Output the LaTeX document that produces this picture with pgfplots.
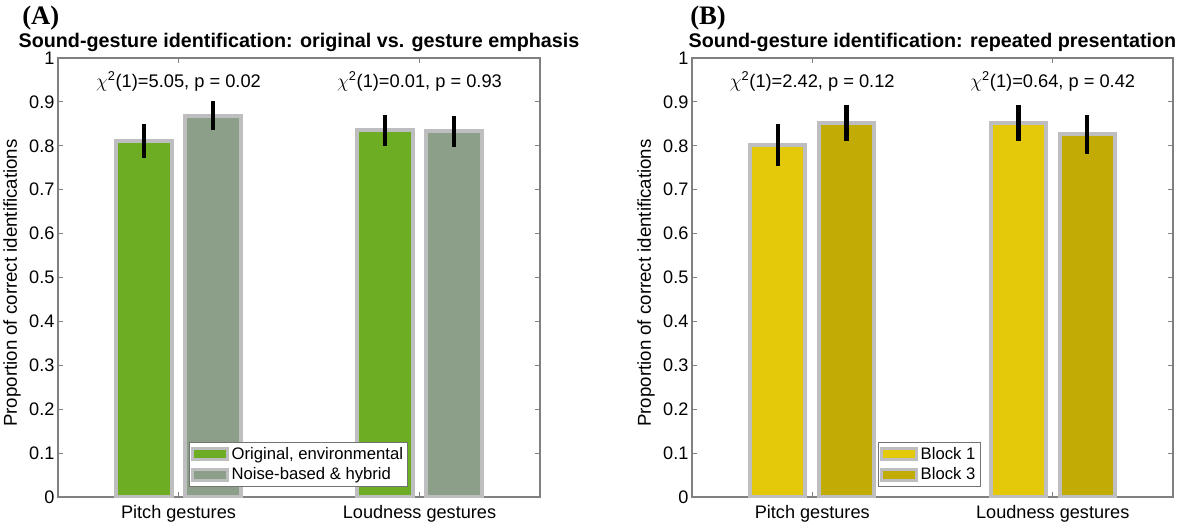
\documentclass[border=0pt]{standalone}
\usepackage{pgfplots}
\pgfplotsset{compat=1.18}
\usepackage{pgfplotstable}
\usepackage{fontspec}
\setmainfont{Liberation Sans}
\newfontfamily\panelfont{Liberation Serif}

\definecolor{cGreen}{RGB}{109,173,35}
\definecolor{cSage}{RGB}{140,159,137}
\definecolor{cYel}{RGB}{227,201,9}
\definecolor{cOlive}{RGB}{195,171,6}
\definecolor{cEdge}{RGB}{190,190,192}
\definecolor{axgray}{RGB}{128,128,128}

% panel A
\pgfplotstableread{
x y ep em
0.857 0.811 0.039 0.038
1.857 0.835 0.036 0.036
}\Aone
\pgfplotstableread{
x y ep em
1.143 0.869 0.033 0.033
2.143 0.833 0.036 0.036
}\Atwo
% panel B
\pgfplotstableread{
x y ep em
0.857 0.801 0.048 0.048
1.857 0.852 0.042 0.042
}\Bone
\pgfplotstableread{
x y ep em
1.143 0.852 0.042 0.042
2.143 0.827 0.044 0.045
}\Btwo

\pgfplotsset{
  patchleg/.style={legend image code/.code={\draw[##1] (0pt,-4pt) rectangle (26pt,4pt);}},
  mybar/.style={ybar, bar width=0.229, bar shift=0pt, draw=cEdge, line width=3pt, forget plot,
      error bars/y dir=both, error bars/y explicit, error bars/error mark=none,
      error bars/error bar style={line width=3.5pt, draw=black, line cap=butt}},
  panel/.style={
    scale only axis, height=329.25pt,
    xmin=0.5, xmax=2.5, ymin=0, ymax=1,
    xtick={1,2}, xticklabels={Pitch gestures,Loudness gestures},
    ytick={0,0.1,0.2,0.3,0.4,0.5,0.6,0.7,0.8,0.9,1},
    yticklabels={0,0.1,0.2,0.3,0.4,0.5,0.6,0.7,0.8,0.9,1},
    tick align=inside, tick pos=both, major tick length=4pt,
    axis line style={draw=axgray, line width=0.8pt},
    tick style={draw=axgray, line width=0.6pt},
    ticklabel style={font=\fontsize{13.6}{15}\selectfont},
    yticklabel style={inner sep=2.5pt},
    xticklabel style={yshift=-2.5pt},
    /pgf/number format/assume math mode=true,
    ylabel={Proportion of correct identifications},
    ylabel style={at={(axis description cs:-0.0954,0.4875)}, anchor=center, font=\fontsize{14}{16}\selectfont},
    every axis title shift=0pt,
    title style={at={(axis description cs:0.5,1.0228)}, anchor=base, font=\fontsize{14.8}{16}\selectfont\bfseries},
    legend style={draw=black!55, fill=white, font=\fontsize{12.5}{14}\selectfont,
      inner sep=1.5pt, row sep=1pt, anchor=south west},
    legend cell align=left,
  }
}

\begin{document}
\begin{tikzpicture}
\useasboundingbox (0,0) rectangle (882.75pt,396.75pt);

\node[anchor=base west, inner sep=0pt, font=\panelfont\bfseries\fontsize{20}{22}\selectfont] at (16.5pt,378pt) {(A)};
\node[anchor=base west, inner sep=0pt, font=\panelfont\bfseries\fontsize{20}{22}\selectfont] at (517.5pt,378pt) {(B)};

\begin{axis}[panel, at={(43.5pt,24pt)}, anchor=south west, width=361.5pt,
  title={Sound-gesture identification: original vs. gesture emphasis},
  legend style={at={(0.272,0.023)}}]
\addplot[mybar, fill=cGreen] table[x=x, y=y, y error plus=ep, y error minus=em] {\Aone};
\addplot[mybar, fill=cSage] table[x=x, y=y, y error plus=ep, y error minus=em] {\Atwo};
\addlegendimage{patchleg, fill=cGreen, draw=cEdge, line width=2.2pt}
\addlegendentry{Original, environmental}
\addlegendimage{patchleg, fill=cSage, draw=cEdge, line width=2.2pt}
\addlegendentry{Noise-based \& hybrid}
\node[anchor=base, font=\fontsize{13.7}{15}\selectfont] at (axis cs:1,0.932) {$\chi$\textsuperscript{2}(1)=5.05, p = 0.02};
\node[anchor=base, font=\fontsize{13.7}{15}\selectfont] at (axis cs:2,0.932) {$\chi$\textsuperscript{2}(1)=0.01, p = 0.93};
\end{axis}

\begin{axis}[panel, at={(519pt,24pt)}, anchor=south west, width=360.75pt,
  title={Sound-gesture identification: repeated presentation},
  legend style={at={(0.387,0.023)}}]
\addplot[mybar, fill=cYel] table[x=x, y=y, y error plus=ep, y error minus=em] {\Bone};
\addplot[mybar, fill=cOlive] table[x=x, y=y, y error plus=ep, y error minus=em] {\Btwo};
\addlegendimage{patchleg, fill=cYel, draw=cEdge, line width=2.2pt}
\addlegendentry{Block 1}
\addlegendimage{patchleg, fill=cOlive, draw=cEdge, line width=2.2pt}
\addlegendentry{Block 3}
\node[anchor=base, font=\fontsize{13.7}{15}\selectfont] at (axis cs:1,0.932) {$\chi$\textsuperscript{2}(1)=2.42, p = 0.12};
\node[anchor=base, font=\fontsize{13.7}{15}\selectfont] at (axis cs:2,0.932) {$\chi$\textsuperscript{2}(1)=0.64, p = 0.42};
\end{axis}
\end{tikzpicture}
\end{document}
